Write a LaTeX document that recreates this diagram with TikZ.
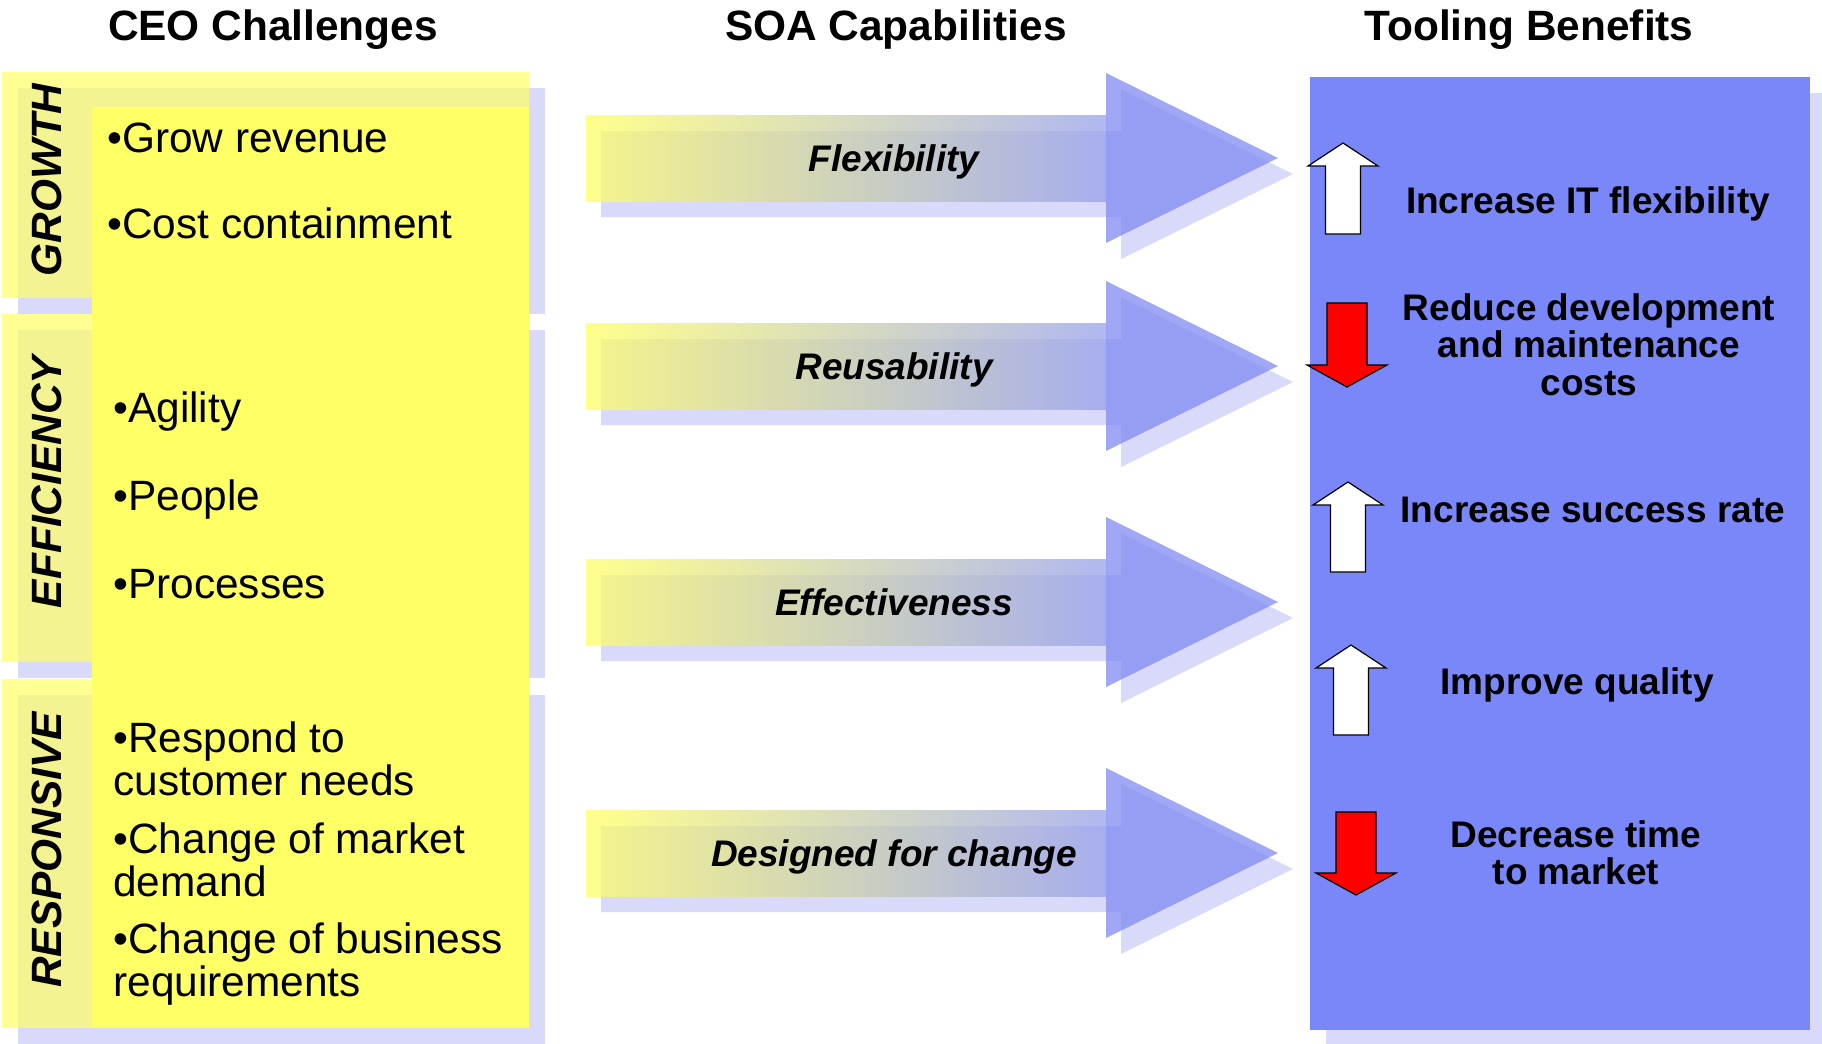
\documentclass[tikz,border=0pt]{standalone}
\usepackage{fontspec}
\setmainfont{Liberation Sans}
\definecolor{lilac}{RGB}{217,217,250}
\definecolor{sun}{RGB}{255,255,102}
\definecolor{panel}{RGB}{122,135,248}
\definecolor{headblue}{RGB}{128,139,242}
\definecolor{shaftblue}{RGB}{150,160,235}
\definecolor{shaftmid}{RGB}{212,216,186}
\begin{document}
\begin{tikzpicture}[x=0.5pt,y=-0.5pt,
    hdr/.style={font=\fontsize{21.2}{24}\selectfont\bfseries,anchor=base,inner sep=0},
    bul/.style={font=\fontsize{21.2}{21.5}\selectfont,anchor=base west,inner sep=0,align=left},
    tag/.style={font=\fontsize{21.2}{24}\selectfont\bfseries\itshape,rotate=90,inner sep=0},
    capab/.style={font=\fontsize{18.5}{20}\selectfont\bfseries\itshape,anchor=base,inner sep=0},
    gain/.style={font=\fontsize{18.5}{18.75}\selectfont\bfseries,inner sep=0,align=center},
    blk/.style={draw=black,line width=0.6pt}]
    \useasboundingbox (0,0) rectangle (1822,1044);
    \node[hdr] (ceo) at (273,40) {CEO Challenges};
    \node[hdr] (soa) at (896,40) {SOA Capabilities};
    \node[hdr] (tool) at (1529,40) {Tooling Benefits};
    \foreach \t/\b in {72/298,314/662,679/1028}{
        \fill[lilac] (18,\t+16) rectangle (545,\b+16);
        \fill[sun,fill opacity=0.7] (2,\t) rectangle (529,\b);
    }
    \fill[sun] (92,107) rectangle (529,1028);
    \node[tag] (growth) at (47,180) {GROWTH};
    \node[tag] (effic) at (47,482) {EFFICIENCY};
    \node[tag] (resp) at (47,850) {RESPONSIVE};
    \node[bul] (grow) at (107,152) {•Grow revenue};
    \node[bul] (cost) at (107,238) {•Cost containment};
    \node[bul] (agil) at (113,422) {•Agility};
    \node[bul] (people) at (113,510) {•People};
    \node[bul] (proc) at (113,598) {•Processes};
    \node[bul,anchor=north west] (cust) at (113,721) {•Respond to\\customer needs};
    \node[bul,anchor=north west] (market) at (113,822) {•Change of market\\demand};
    \node[bul,anchor=north west] (biz) at (113,922) {•Change of business\\requirements};
    \foreach \cy/\nm/\txt in {158/flex/Flexibility,366/reuse/Reusability,602/effect/Effectiveness,853/change/Designed for change}{
        \fill[lilac,shift={(15,16)}] (586,\cy-43) -- (1106,\cy-43) -- (1106,\cy-85) -- (1278,\cy) -- (1106,\cy+85) -- (1106,\cy+43) -- (586,\cy+43) -- cycle;
        \shade[left color=sun,middle color=shaftmid,right color=shaftblue,opacity=0.75] (586,\cy-43) rectangle (1106,\cy+43);
        \fill[headblue,fill opacity=0.75] (1106,\cy-85) -- (1278,\cy) -- (1106,\cy+85) -- cycle;
        \node[capab] (\nm) at (894,\cy+13) {\txt};
    }
    \fill[lilac] (1326,93) rectangle (1840,1050);
    \fill[panel] (1310,77) rectangle (1810,1030);
    \foreach \x/\t/\b in {1343/143/234,1348/482/572,1351/645/735}
        \draw[blk,fill=white] (\x,\t) -- (\x+35,\t+23) -- (\x+17.5,\t+23) -- (\x+17.5,\b) -- (\x-17.5,\b) -- (\x-17.5,\t+23) -- (\x-35,\t+23) -- cycle;
    \foreach \x/\t/\b in {1347/303/387,1356/812/895}
        \draw[blk,fill=red] (\x-20,\t) -- (\x+20,\t) -- (\x+20,\b-22) -- (\x+40,\b-22) -- (\x,\b) -- (\x-40,\b-22) -- (\x-20,\b-22) -- cycle;
    \node[gain,anchor=base] (itflex) at (1588,213) {Increase IT flexibility};
    \node[gain,anchor=north] (devcost) at (1589,293) {Reduce development\\and maintenance\\costs};
    \node[gain,anchor=base] (success) at (1593,522) {Increase success rate};
    \node[gain,anchor=base] (quality) at (1577,694) {Improve quality};
    \node[gain,anchor=north] (ttm) at (1576,820) {Decrease time\\to market};
\end{tikzpicture}
\end{document}
